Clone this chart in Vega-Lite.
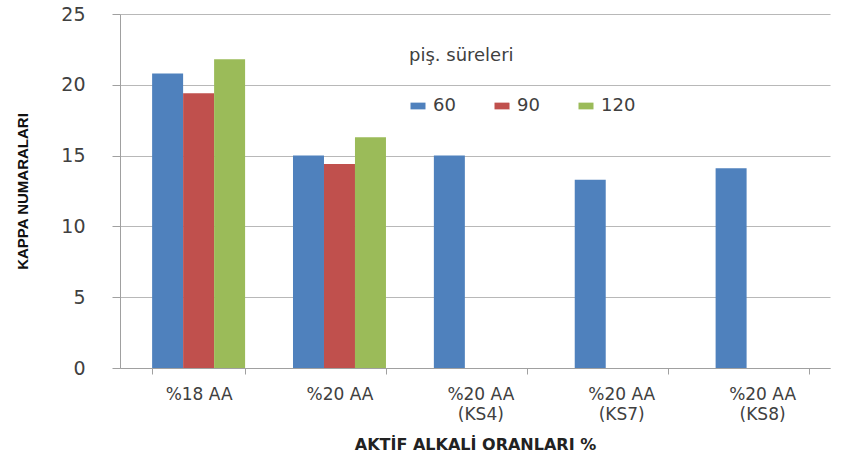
{
  "$schema": "https://vega.github.io/schema/vega-lite/v6.json",
  "autosize": "none",
  "width": 710,
  "height": 354,
  "padding": {"left": 120, "top": 14, "right": 12, "bottom": 84},
  "background": "white",
  "config": {
    "view": {"stroke": null},
    "font": "DejaVu Sans"
  },
  "data": {
    "values": [
      {"oran": "%18 AA", "sure": "60", "kappa": 20.8},
      {"oran": "%18 AA", "sure": "90", "kappa": 19.4},
      {"oran": "%18 AA", "sure": "120", "kappa": 21.8},
      {"oran": "%20 AA", "sure": "60", "kappa": 15.0},
      {"oran": "%20 AA", "sure": "90", "kappa": 14.4},
      {"oran": "%20 AA", "sure": "120", "kappa": 16.3},
      {"oran": "%20 AA (KS4)", "sure": "60", "kappa": 15.0},
      {"oran": "%20 AA (KS7)", "sure": "60", "kappa": 13.3},
      {"oran": "%20 AA (KS8)", "sure": "60", "kappa": 14.1}
    ]
  },
  "mark": {"type": "bar"},
  "encoding": {
    "x": {
      "field": "oran",
      "type": "nominal",
      "sort": ["%18 AA", "%20 AA", "%20 AA (KS4)", "%20 AA (KS7)", "%20 AA (KS8)"],
      "scale": {"paddingInner": 0.34, "paddingOuter": 0.19, "align": 0.6},
      "axis": {
        "title": "AKTİF ALKALİ ORANLARI %",
        "titleFont": "DejaVu Sans",
        "titleFontWeight": "bold",
        "titleFontSize": 16,
        "titleColor": "#222222",
        "titlePadding": 14,
        "labelAngle": 0,
        "labelFontSize": 17,
        "labelColor": "#404040",
        "labelPadding": 12,
        "labelLineHeight": 20,
        "labelExpr": "split(replace(datum.label, ' (', '|('), '|')",
        "domainColor": "#a0a0a0",
        "tickColor": "#a0a0a0",
        "tickSize": 6,
        "tickBand": "extent",
        "grid": false
      }
    },
    "xOffset": {
      "field": "sure",
      "type": "nominal",
      "sort": ["60", "90", "120"],
      "scale": {"paddingInner": 0}
    },
    "y": {
      "field": "kappa",
      "type": "quantitative",
      "scale": {"domain": [0, 25]},
      "axis": {
        "title": "KAPPA NUMARALARI",
        "titleFont": "Liberation Sans",
        "titleFontWeight": "bold",
        "titleFontSize": 15,
        "titleColor": "#111111",
        "titlePadding": 30,
        "values": [0, 5, 10, 15, 20, 25],
        "labelFontSize": 19,
        "labelColor": "#404040",
        "labelPadding": 27,
        "tickSize": 8,
        "tickColor": "#a0a0a0",
        "domainColor": "#a0a0a0",
        "gridColor": "#b8b8b8",
        "gridWidth": 1.2
      }
    },
    "color": {
      "field": "sure",
      "type": "nominal",
      "sort": ["60", "90", "120"],
      "scale": {"domain": ["60", "90", "120"], "range": ["#4F81BD", "#C0504D", "#9BBB59"]},
      "legend": {
        "title": "piş. süreleri",
        "orient": "none",
        "legendX": 289,
        "legendY": 33,
        "direction": "horizontal",
        "titleFontSize": 18,
        "titleFontWeight": "normal",
        "titleColor": "#404040",
        "titlePadding": 32,
        "labelFontSize": 18,
        "labelColor": "#404040",
        "labelOffset": 6,
        "symbolType": "M-1,-0.45H1V0.45H-1Z",
        "symbolSize": 225,
        "symbolStrokeWidth": 0,
        "gridAlign": "all",
        "columnPadding": 25
      }
    }
  }
}
